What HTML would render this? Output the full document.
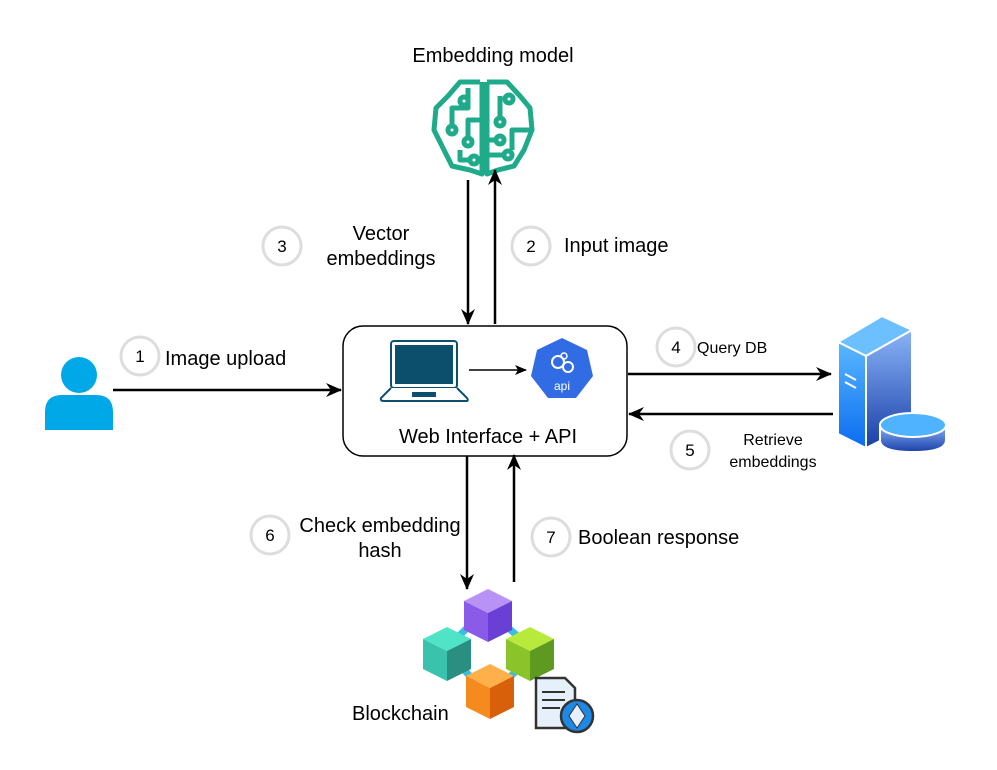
<!DOCTYPE html>
<html><head><meta charset="utf-8"><style>
body{margin:0;background:#fff;}
svg{display:block;font-family:"Liberation Sans",sans-serif;}
</style></head><body>
<svg width="997" height="770" viewBox="0 0 997 770">
<defs>
<marker id="a" markerWidth="12" markerHeight="12" refX="11" refY="6" orient="auto" markerUnits="userSpaceOnUse"><path d="M0,1 L12,6 L0,11 L3,6z" fill="#000"/></marker>
<marker id="b" markerWidth="16" markerHeight="16" refX="15" refY="8" orient="auto" markerUnits="userSpaceOnUse"><path d="M0,1 L16,8 L0,15 L5,8z" fill="#000"/></marker>
<linearGradient id="sv" x1="0" y1="0" x2="0" y2="1"><stop offset="0" stop-color="#8ab4f8"/><stop offset="1" stop-color="#1a3fa8"/></linearGradient>
<linearGradient id="sv2" x1="0" y1="0" x2="0" y2="1"><stop offset="0" stop-color="#5ab8ff"/><stop offset="1" stop-color="#0a6cf0"/></linearGradient>
</defs>
<text x="493" y="62" font-size="20" text-anchor="middle">Embedding model</text>
<g fill="none" stroke="#1faa8a" stroke-width="5" stroke-linejoin="round">
<path d="M480,82 L460,82 L448,96 L436,108 L434,130 L444,150 L452,166 L470,170 L482,174 L482,82"/>
<path d="M487,82 L507,82 L520,96 L530,108 L532,130 L524,150 L514,166 L498,170 L487,174 L487,82"/>
<path d="M468,88 L468,108 L452,108 L452,125"/><circle cx="452" cy="130" r="4"/>
<circle cx="464" cy="101" r="4"/>
<path d="M482,120 L468,120 L468,138"/><circle cx="468" cy="142" r="4"/>
<path d="M460,150 L460,160 L470,160"/><circle cx="474" cy="160" r="4"/>
<path d="M500,96 L500,118"/><circle cx="500" cy="122" r="4"/>
<circle cx="509" cy="99" r="4"/>
<path d="M487,140 L496,140"/><circle cx="500" cy="140" r="4"/>
<path d="M532,130 L512,130 L512,150"/><path d="M487,155 L504,155"/><circle cx="508" cy="155" r="4"/>
</g>
<line x1="468" y1="180" x2="468" y2="324" stroke="#000" stroke-width="2.5" marker-end="url(#b)"/>
<line x1="495" y1="324" x2="495" y2="170" stroke="#000" stroke-width="2.5" marker-end="url(#b)"/>
<g fill="#fff" stroke="#ddd" stroke-width="3">
<circle cx="282" cy="246" r="19"/><circle cx="531" cy="246" r="19"/><circle cx="140" cy="356" r="19"/>
<circle cx="676" cy="347" r="19"/><circle cx="690" cy="450" r="19"/><circle cx="270" cy="535" r="19"/><circle cx="551" cy="537" r="19"/>
</g>
<g font-size="17" text-anchor="middle">
<text x="282" y="252">3</text><text x="531" y="252">2</text><text x="140" y="362">1</text>
<text x="676" y="353">4</text><text x="690" y="456">5</text><text x="270" y="541">6</text><text x="551" y="543">7</text>
</g>
<g font-size="20">
<text x="381" y="240" text-anchor="middle">Vector</text><text x="381" y="265" text-anchor="middle">embeddings</text>
<text x="564" y="252">Input image</text>
<text x="165" y="365">Image upload</text>
<text x="380" y="532" text-anchor="middle">Check embedding</text><text x="380" y="557" text-anchor="middle">hash</text>
<text x="578" y="544">Boolean response</text>
<text x="352" y="720">Blockchain</text>
</g>
<g font-size="16">
<text x="697" y="353">Query DB</text>
<text x="773" y="445" text-anchor="middle">Retrieve</text><text x="773" y="467" text-anchor="middle">embeddings</text>
</g>
<rect x="343" y="326" width="284" height="130" rx="20" fill="#fff" stroke="#000" stroke-width="1.5"/>
<text x="488" y="443" font-size="20" text-anchor="middle">Web Interface + API</text>
<rect x="391" y="341" width="66" height="47" rx="3" fill="#fff" stroke="#0d4f6e" stroke-width="2"/>
<rect x="395" y="345" width="58" height="39" fill="#0b4f6c"/>
<path d="M391,388 L381,398 Q380,401 384,401 L466,401 Q469,401 467,398 L457,388" fill="#fff" stroke="#0d4f6e" stroke-width="2"/>
<rect x="412" y="392" width="24" height="5" fill="#0b4f6c"/>
<line x1="469" y1="370" x2="526" y2="370" stroke="#000" stroke-width="1.5" marker-end="url(#a)"/>
<polygon points="562,338 587,350 593,376 576,398 548,398 531,376 537,350" fill="#326ce5"/>
<circle cx="558" cy="362" r="6" fill="none" stroke="#fff" stroke-width="2"/><circle cx="568" cy="367" r="5" fill="none" stroke="#fff" stroke-width="2"/><circle cx="564" cy="356" r="3" fill="none" stroke="#fff" stroke-width="1.5"/>
<text x="562" y="390" font-size="12" fill="#fff" text-anchor="middle">api</text>
<circle cx="79" cy="375" r="18" fill="#00a8e8"/>
<path d="M45,430 L45,412 Q45,395 62,395 L96,395 Q113,395 113,412 L113,430z" fill="#00a8e8"/>
<line x1="113" y1="390" x2="341" y2="390" stroke="#000" stroke-width="2.5" marker-end="url(#b)"/>
<line x1="628" y1="374" x2="831" y2="374" stroke="#000" stroke-width="2.5" marker-end="url(#b)"/>
<line x1="833" y1="414" x2="629" y2="414" stroke="#000" stroke-width="2.5" marker-end="url(#b)"/>
<line x1="467" y1="456" x2="467" y2="589" stroke="#000" stroke-width="2.5" marker-end="url(#b)"/>
<line x1="514" y1="582" x2="514" y2="455" stroke="#000" stroke-width="2.5" marker-end="url(#b)"/>
<polygon points="838,342 882,316 912,330 866,356" fill="#6cc0ff" stroke="#fff" stroke-width="2"/>
<polygon points="838,342 866,356 866,448 838,434" fill="url(#sv2)" stroke="#fff" stroke-width="2"/>
<polygon points="866,356 912,330 912,425 866,448" fill="url(#sv)" stroke="#fff" stroke-width="2"/>
<line x1="845" y1="374" x2="856" y2="380" stroke="#fff" stroke-width="2"/><line x1="845" y1="382" x2="856" y2="388" stroke="#fff" stroke-width="2"/>
<path d="M880,425 L880,440 Q880,452 913,452 Q946,452 946,440 L946,425z" fill="url(#sv)" stroke="#fff" stroke-width="2"/>
<ellipse cx="913" cy="425" rx="33" ry="12" fill="#4fb3ff" stroke="#fff" stroke-width="2"/>
<g stroke="#3bbfe0" stroke-width="7" fill="none"><path d="M470,625 L455,640"/><path d="M505,625 L522,640"/><path d="M460,665 L475,682"/><path d="M522,665 L505,682"/></g>
<g>
<polygon points="488,589 512,601 488,613 464,601" fill="#b893f5"/><polygon points="464,601 488,613 488,642 464,630" fill="#8a5ae8"/><polygon points="488,613 512,601 512,630 488,642" fill="#6a3fd6"/>
<polygon points="447,627 471,639 447,651 423,639" fill="#4fe3c8"/><polygon points="423,639 447,651 447,681 423,669" fill="#3ac2ac"/><polygon points="447,651 471,639 471,669 447,681" fill="#2a8f80"/>
<polygon points="530,627 554,639 530,651 506,639" fill="#b8ea3c"/><polygon points="506,639 530,651 530,681 506,669" fill="#8ac428"/><polygon points="530,651 554,639 554,669 530,681" fill="#5f9a20"/>
<polygon points="490,664 514,676 490,688 466,676" fill="#ffb04a"/><polygon points="466,676 490,688 490,719 466,707" fill="#f58a1e"/><polygon points="490,688 514,676 514,707 490,719" fill="#d9600a"/>
</g>
<path d="M536,678 L565,678 L575,688 L575,728 L536,728z" fill="#e6f0fb" stroke="#333" stroke-width="2.5"/>
<g stroke="#333" stroke-width="2"><line x1="542" y1="692" x2="565" y2="692"/><line x1="542" y1="700" x2="565" y2="700"/><line x1="542" y1="708" x2="560" y2="708"/></g>
<circle cx="577" cy="716" r="16" fill="#1e88e5" stroke="#333" stroke-width="2.5"/>
<polygon points="577,704 585,716 577,728 569,716" fill="#e8f0ff" stroke="#333" stroke-width="1"/>
</svg>
</body></html>
